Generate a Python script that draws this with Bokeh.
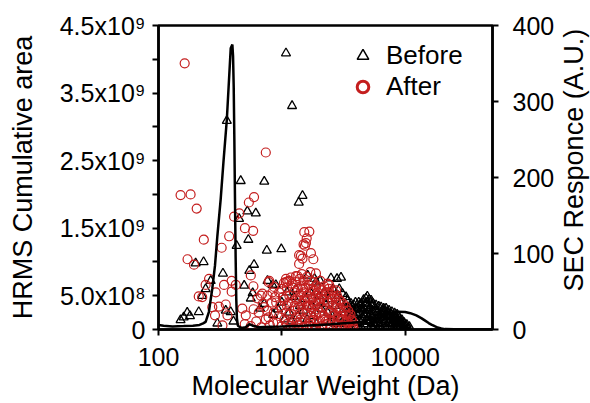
import math
from bokeh.plotting import figure
from bokeh.layouts import row
from bokeh.models import Range1d, LinearAxis, FixedTicker, NumeralTickFormatter, Legend, LegendItem, Label
from bokeh.embed import file_html
from bokeh.resources import INLINE

# ---------------- data ----------------
# "Before" (triangles): molecular weight (Da) and HRMS cumulative area (x1e9)
before_mw = [1080, 1210, 358, 464, 720, 1470, 1370, 525, 615, 450, 535, 430, 755, 990, 232, 200,
             333, 595, 545, 495, 765, 840, 1620, 1890, 265, 241, 226, 560, 720, 385, 212, 171,
             151, 300, 160, 180, 405, 351, 580, 665, 850, 2040, 1840, 2500, 2800, 3016, 2920, 3100,
             3310, 894, 1100, 1250, 1000, 930, 1150, 1400, 1550, 1700, 1300, 2200, 2400, 2600, 1950,
             2100, 2350, 2700, 3000, 3200, 1800, 1600, 1200, 2900, 1050, 1350, 1500, 1750, 2000,
             2250, 2550, 2850, 3300, 1900, 2450, 2750, 3050,
             3400, 3640, 3850, 4000, 4200, 4385, 4600, 4800, 4930, 5100, 5290, 5500, 5800, 6100,
             6375, 6700, 7000, 7400, 7800, 8200, 8600, 9000, 9400, 9800, 10300, 10800,
             3500, 3700, 3900, 4100, 4300, 4500, 4700, 4900, 5000, 5200, 5400, 5600, 5900, 6200,
             6500, 6800, 7200, 7600, 8000, 8400, 8800, 9200, 9600, 10000, 3600, 4000, 4400, 4800,
             5300, 5700, 6300, 6900, 7500, 8100, 8700, 4150, 4650, 5150, 5750, 6050, 6600, 7100,
             7700, 8300, 9100, 3300, 3450, 3550, 3750, 3950, 4450, 4750, 5050, 5450, 5950, 6450,
             6950, 7350, 7900, 8500, 9500,
             3350, 3520, 3680, 3820, 3980, 4080, 4250, 4350, 4550, 4620, 4850, 4980, 5120, 5250,
             5380, 5520, 5650, 5850, 6000, 6150, 6300, 6550, 6750, 6850, 7050, 7300, 7450, 7650,
             7850, 8050, 8250, 8450, 8650, 8900, 9300, 9700, 10100, 10500, 4900, 5350, 4250, 3700]
before_area = [4.09, 3.31, 3.09, 2.20, 2.19, 1.98, 1.88, 1.75, 1.72, 1.64, 1.33, 1.24, 1.17, 1.19, 1.00, 0.98,
               0.83, 0.96, 0.87, 0.65, 0.72, 0.66, 0.80, 0.70, 0.72, 0.60, 0.50, 0.46, 0.38, 0.26, 0.26, 0.25,
               0.14, 0.09, 0.18, 0.20, 0.12, 0.28, 0.54, 0.31, 0.22, 0.72, 0.75, 0.76, 0.75, 0.77, 0.60, 0.53,
               0.48, 0.66, 0.55, 0.48, 0.40, 0.30, 0.25, 0.35, 0.45, 0.55, 0.60, 0.55, 0.45, 0.60, 0.40,
               0.30, 0.25, 0.35, 0.40, 0.30, 0.20, 0.15, 0.12, 0.18, 0.15, 0.20, 0.28, 0.35, 0.50,
               0.38, 0.20, 0.50, 0.08, 0.08, 0.10, 0.08, 0.10,
               0.42, 0.38, 0.36, 0.30, 0.40, 0.38, 0.44, 0.46, 0.49, 0.44, 0.43, 0.38, 0.36, 0.34,
               0.33, 0.31, 0.31, 0.28, 0.26, 0.24, 0.22, 0.17, 0.14, 0.10, 0.07, 0.04,
               0.25, 0.15, 0.20, 0.10, 0.25, 0.18, 0.30, 0.12, 0.35, 0.22, 0.28, 0.15, 0.25, 0.18,
               0.22, 0.12, 0.20, 0.15, 0.10, 0.16, 0.08, 0.05, 0.04, 0.03, 0.05, 0.05, 0.04, 0.06,
               0.05, 0.06, 0.05, 0.04, 0.05, 0.03, 0.04, 0.32, 0.22, 0.12, 0.30, 0.10, 0.28, 0.26,
               0.08, 0.20, 0.12, 0.15, 0.08, 0.32, 0.28, 0.40, 0.12, 0.38, 0.28, 0.10, 0.20, 0.14,
               0.22, 0.10, 0.18, 0.12, 0.09,
               0.30, 0.18, 0.24, 0.10, 0.15, 0.22, 0.14, 0.30, 0.28, 0.08, 0.24, 0.18, 0.32, 0.14,
               0.20, 0.26, 0.08, 0.14, 0.26, 0.06, 0.24, 0.08, 0.18, 0.26, 0.14, 0.24, 0.18, 0.22,
               0.06, 0.20, 0.08, 0.06, 0.16, 0.12, 0.08, 0.06, 0.05, 0.02, 0.40, 0.36, 0.36, 0.34]

# "After" (circles)
after_mw = [163, 741, 151, 182, 204, 233, 172, 194, 325, 374, 410, 452, 540, 595, 502, 585,
            257, 241, 212, 226, 291, 340, 392, 423, 392, 588, 560, 309, 351, 273, 287, 362,
            330, 478, 510, 635, 695, 765, 840, 715, 780, 865, 675, 790, 1078, 1183, 1340, 1380,
            1427, 1520, 1670, 1590, 1567, 1500, 1380, 1470, 1720, 1800, 1890, 1300, 1110, 1040,
            2420, 2750, 1540,
            500, 560, 620, 680, 740, 800, 860, 920, 650, 590, 700, 760, 830, 880, 950, 980,
            1000, 1000, 1000, 1050, 1050, 1100, 1100, 1100, 1150, 1150, 1200, 1200, 1200, 1250,
            1250, 1250, 1300, 1300, 1300, 1350, 1350, 1350, 1400, 1400, 1400, 1450, 1450, 1450,
            1500, 1500, 1500, 1500, 1550, 1550, 1550, 1600, 1600, 1600, 1650, 1650, 1650, 1700,
            1700, 1700, 1750, 1750, 1750, 1800, 1800, 1800, 1850, 1850, 1900, 1900, 1900, 1900,
            1950, 1950, 2000, 2000, 2000, 2100, 2100, 2100, 2200, 2200, 2200, 2300, 2300, 2300,
            2400, 2400, 2400, 2500, 2500, 2500, 2600, 2600, 2600, 2700, 2700, 2800, 2800, 2800,
            2900, 2900, 3000, 3000, 3000, 3150, 3150, 3300, 3300, 3300, 3450, 3450, 3600, 3600,
            3750, 3800, 950, 900, 850, 780, 1080, 1700, 2050, 2350,
            1125, 1375, 1625, 1875, 2150, 2450, 2750, 3050, 3400, 3700,
            1020, 1080, 1130, 1180, 1230, 1270, 1320, 1380, 1420, 1480, 1520, 1580, 1620, 1680,
            1720, 1780, 1820, 1880, 1920, 1980, 2030, 2080, 2150, 2250, 2280, 2350, 2450, 2550,
            2650, 2750, 2850, 2950, 3050, 3200, 3350, 3500, 3650, 3750, 1150, 1450]
after_area = [3.94, 2.62, 1.99, 2.00, 1.79, 1.33, 1.04, 0.96, 1.21, 1.38, 1.67, 1.72, 1.88, 1.96, 1.50, 1.46,
              0.75, 0.66, 0.49, 0.48, 0.55, 0.66, 0.72, 0.66, 0.56, 0.64, 0.80, 0.34, 0.37, 0.33, 0.21, 0.21,
              0.06, 0.31, 0.21, 0.46, 0.53, 0.50, 0.55, 0.33, 0.70, 0.63, 0.50, 0.72, 0.70, 0.77, 0.79, 0.97,
              1.09, 1.44, 1.45, 1.35, 1.28, 1.26, 1.10, 1.05, 1.13, 1.04, 0.83, 0.79, 0.71, 0.69,
              0.66, 0.58, 1.24,
              0.08, 0.05, 0.12, 0.03, 0.15, 0.06, 0.25, 0.10, 0.25, 0.30, 0.38, 0.28, 0.40, 0.48, 0.55, 0.35,
              0.60, 0.30, 0.05, 0.45, 0.15, 0.62, 0.35, 0.08, 0.50, 0.22, 0.68, 0.40, 0.12, 0.55,
              0.28, 0.02, 0.70, 0.45, 0.18, 0.60, 0.32, 0.06, 0.75, 0.50, 0.24, 0.65, 0.38, 0.10,
              0.72, 0.55, 0.30, 0.03, 0.62, 0.42, 0.16, 0.78, 0.50, 0.25, 0.66, 0.35, 0.08, 0.72,
              0.45, 0.20, 0.60, 0.30, 0.04, 0.70, 0.48, 0.14, 0.58, 0.36, 0.65, 0.42, 0.22, 0.02,
              0.55, 0.30, 0.62, 0.40, 0.12, 0.58, 0.34, 0.05, 0.64, 0.44, 0.20, 0.55, 0.30, 0.08,
              0.60, 0.40, 0.15, 0.52, 0.26, 0.03, 0.56, 0.36, 0.12, 0.48, 0.22, 0.50, 0.32, 0.06,
              0.44, 0.18, 0.42, 0.26, 0.04, 0.38, 0.14, 0.34, 0.22, 0.05, 0.28, 0.10, 0.22, 0.06,
              0.12, 0.03, 0.20, 0.40, 0.10, 0.18, 0.75, 0.85, 0.72, 0.68,
              0.0, 0.0, 0.0, 0.0, 0.0, 0.0, 0.0, 0.0, 0.0, 0.0,
              0.48, 0.25, 0.40, 0.05, 0.62, 0.35, 0.10, 0.42, 0.15, 0.60, 0.45, 0.05, 0.35, 0.55,
              0.12, 0.40, 0.25, 0.50, 0.10, 0.45, 0.25, 0.50, 0.15, 0.52, 0.12, 0.40, 0.25, 0.45,
              0.20, 0.40, 0.15, 0.32, 0.20, 0.28, 0.12, 0.20, 0.14, 0.06, 0.72, 0.82]

# SEC trace: molecular weight (Da) and SEC response (A.U.)
sec_mw = [100, 110, 130, 160, 190, 215, 230, 241, 256, 273, 287, 300, 319, 336, 358, 385, 397,
          402, 407, 412, 417, 422, 427, 432, 440, 470, 510, 545, 580, 650, 800, 1000, 1500, 2000,
          2500, 3000, 3700, 4400, 5000, 6000, 7000, 7700, 8700, 10000, 11000, 12300, 13500, 14400,
          15500, 16300, 17500, 18300, 19600, 21000, 25000, 35000, 51000]
sec_resp = [6, 5, 4, 4.5, 5, 6, 8, 10, 23, 54, 84, 123, 171, 220, 276, 370, 375,
            360, 320, 250, 170, 95, 40, 15, 5, 2, 3, 7, 5, 3, 3.5, 4, 5, 6,
            7, 8, 9, 10, 12, 15, 20, 22, 23.5, 23, 21.5, 18.5, 15, 12,
            8.5, 6.5, 4, 2.6, 1.3, 0.5, 0.3, 0.3, 0.3]

x_ticks = [100, 1000, 10000]
area_ticks = [0, 0.5, 1.0, 1.5, 2.0, 2.5, 3.0, 3.5, 4.0, 4.5]
area_labels = {0: "0", 0.5: "5.0x10\u2078", 1.0: "", 1.5: "1.5x10\u2079", 2.0: "",
               2.5: "2.5x10\u2079", 3.0: "", 3.5: "3.5x10\u2079", 4.0: "", 4.5: "4.5x10\u2079"}
sec_ticks = [0, 100, 200, 300, 400]

FONT = "Liberation Sans"
RED = "#c41e1e"

p = figure(width=560, height=403, x_axis_type="log",
           x_range=Range1d(100, 51000), y_range=Range1d(0, 4.5),
           output_backend="svg", toolbar_location=None,
           min_border_left=158, min_border_right=68, min_border_top=25, min_border_bottom=72)
p.extra_y_ranges = {"sec": Range1d(0, 400)}
p.grid.visible = False
p.outline_line_color = "black"
p.outline_line_width = 2.5
p.background_fill_color = "white"
p.border_fill_color = "white"

sec_axis = LinearAxis(y_range_name="sec", ticker=FixedTicker(ticks=sec_ticks))
p.add_layout(sec_axis, "right")

for ax in [p.xaxis[0], p.yaxis[0], sec_axis]:
    ax.axis_line_width = 2.5
    ax.axis_line_color = "black"
    ax.major_tick_line_width = 2
    ax.major_tick_out = 6
    ax.major_tick_in = 0
    ax.minor_tick_line_color = None
    ax.major_label_text_font = FONT
    ax.major_label_text_font_size = "25px"
    ax.major_label_text_color = "black"
    ax.axis_label_text_font = FONT
    ax.axis_label_text_font_size = "27px"
    ax.axis_label_text_font_style = "normal"
    ax.axis_label_text_color = "black"

p.xaxis[0].ticker = FixedTicker(ticks=x_ticks)
p.xaxis[0].formatter = NumeralTickFormatter(format="0")
p.xaxis[0].axis_label = "Molecular Weight (Da)"
p.xaxis[0].major_label_standoff = 12
p.xaxis[0].axis_label_standoff = 2

p.yaxis[0].ticker = FixedTicker(ticks=area_ticks)
p.yaxis[0].major_label_overrides = area_labels
p.yaxis[0].axis_label = "HRMS Cumulative area"
p.yaxis[0].major_label_standoff = 7
p.yaxis[0].axis_label_standoff = 19

sec_axis.major_label_standoff = 14

p.scatter(before_mw, before_area, marker="triangle", size=9, fill_color=None,
          line_color="black", line_width=1.3)
p.scatter(after_mw, after_area, marker="circle", size=9, fill_color=None,
          line_color=RED, line_width=1.2)
p.line(sec_mw, sec_resp, y_range_name="sec", line_color="black", line_width=2.5)

# legend proxies (single point outside the visible ranges)
leg_b = p.scatter([1], [-1], marker="triangle", fill_color=None, line_color="black", line_width=1.5)
leg_a = p.scatter([1], [-1], marker="circle", fill_color=None, line_color=RED, line_width=3)
legend = Legend(items=[LegendItem(label="Before", renderers=[leg_b]),
                       LegendItem(label="After", renderers=[leg_a])],
                location=(190, 227), glyph_width=29, glyph_height=29, spacing=0,
                padding=0, margin=0, label_standoff=9,
                label_text_font=FONT, label_text_font_size="26px", label_text_color="black",
                border_line_color=None, background_fill_alpha=0)
p.add_layout(legend)

# narrow strip holding the right-hand axis title (reads bottom-to-top)
t = figure(width=30, height=403, x_range=Range1d(0, 30), y_range=Range1d(0, 403),
           output_backend="svg", toolbar_location=None,
           min_border_left=0, min_border_right=0, min_border_top=0, min_border_bottom=0)
t.axis.visible = False
t.grid.visible = False
t.outline_line_color = None
t.background_fill_color = "white"
t.border_fill_color = "white"
t.add_layout(Label(x=13, y=224.5, text="SEC Responce (A.U.)", angle=math.pi / 2,
                   text_align="center", text_baseline="middle",
                   text_font=FONT, text_font_size="27px", text_color="black"))

layout = row(p, t, spacing=0)
open("out.html", "w").write(file_html(layout, INLINE))
